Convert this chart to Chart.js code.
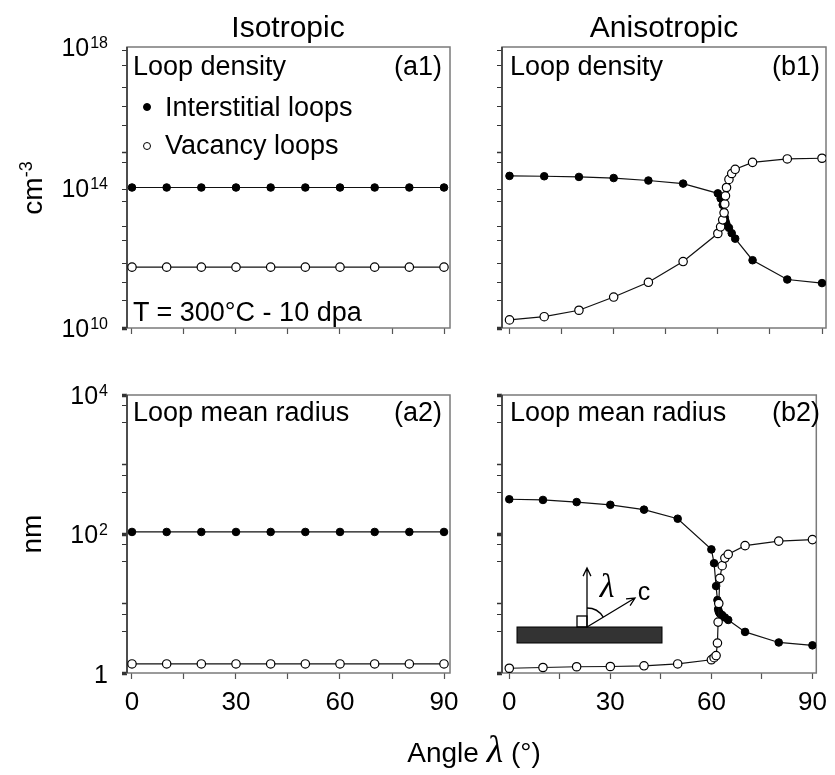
<!DOCTYPE html>
<html lang="en">
<head>
<meta charset="UTF-8">
<title>Loop density and radius vs angle</title>
<script src="https://cdn.jsdelivr.net/npm/chart.js"></script>
<style>
  body { margin: 0; background: #fff; }
  #fig { position: relative; width: 835px; height: 775px; font-family: "Liberation Sans", Arial, sans-serif; color: #000; overflow: hidden; }
  #fig canvas { position: absolute; }
  .t { position: absolute; white-space: nowrap; line-height: 1; }
  .f27 { font-size: 27px; }
  .f28 { font-size: 28px; }
  .f30 { font-size: 30px; }
  .dot { position: absolute; width: 8px; height: 8px; border-radius: 50%; box-sizing: border-box; border: 1.2px solid #000; }
</style>
</head>
<body>
<div id="fig">
  <canvas id="a1" width="470" height="350" style="left:0;top:0"></canvas>
  <canvas id="b1" width="365" height="350" style="left:470px;top:0"></canvas>
  <canvas id="a2" width="470" height="380" style="left:0;top:350px"></canvas>
  <canvas id="b2" width="365" height="380" style="left:470px;top:350px"></canvas>

  <div class="t f30" style="left:188px;top:12px;width:200px;text-align:center">Isotropic</div>
  <div class="t f30" style="left:564px;top:12px;width:200px;text-align:center">Anisotropic</div>

  <div class="t f27" style="left:133px;top:53px">Loop density</div>
  <div class="t f27" style="right:393px;top:53px">(a1)</div>
  <div class="dot" style="left:143px;top:103px;background:#000"></div>
  <div class="t f27" style="left:165px;top:94px">Interstitial loops</div>
  <div class="dot" style="left:143px;top:142px;background:#fff"></div>
  <div class="t f27" style="left:165px;top:132px">Vacancy loops</div>
  <div class="t f27" style="left:133px;top:299px">T = 300°C - 10 dpa</div>

  <div class="t f27" style="left:510px;top:53px">Loop density</div>
  <div class="t f27" style="right:15px;top:53px">(b1)</div>

  <div class="t f27" style="left:133px;top:399px">Loop mean radius</div>
  <div class="t f27" style="right:393px;top:399px">(a2)</div>
  <div class="t f27" style="left:510px;top:399px">Loop mean radius</div>
  <div class="t f27" style="right:15px;top:399px">(b2)</div>

  <div class="t f28" style="left:-18px;top:173px;width:100px;text-align:center;transform:rotate(-90deg)">cm<sup style="font-size:18px;vertical-align:10px">-3</sup></div>
  <div class="t f28" style="left:-18px;top:520px;width:100px;text-align:center;transform:rotate(-90deg)">nm</div>

  <div class="t f28" style="left:374px;top:732px;width:200px;text-align:center;line-height:34px">Angle <span style="font-family:'Liberation Serif',serif;font-style:italic;font-size:38px">λ</span> (°)</div>
</div>
<script>
// angles (deg)
const angIso = [0, 10, 20, 30, 40, 50, 60, 70, 80, 90];
const angAniso = [0, 10, 20, 30, 40, 50, 60, 60.8, 61.4, 61.8, 62, 62.2, 62.5, 63.2, 64, 65, 70, 80, 90];

// loop density (cm^-3)
const densIsoInt = [1e14, 1e14, 1e14, 1e14, 1e14, 1e14, 1e14, 1e14, 1e14, 1e14];
const densIsoVac = [5.4e11, 5.4e11, 5.4e11, 5.4e11, 5.4e11, 5.4e11, 5.4e11, 5.4e11, 5.4e11, 5.4e11];
const densAnisoInt = [2.14e14, 2.09e14, 2.0e14, 1.86e14, 1.58e14, 1.29e14, 6.8e13, 4.9e13, 3.2e13, 2.0e13,
  1.4e13, 1.1e13, 8.9e12, 7.1e12, 5.0e12, 3.5e12, 8.5e11, 2.4e11, 1.9e11];
const densAnisoVac = [1.7e10, 2.1e10, 3.2e10, 7.6e10, 2.0e11, 7.8e11, 4.9e12, 7.6e12, 1.2e13, 1.9e13,
  3.4e13, 5.8e13, 1.0e14, 1.7e14, 2.5e14, 3.3e14, 5.2e14, 6.5e14, 6.8e14];

// loop mean radius (nm)
const radIsoInt = [107, 107, 107, 107, 107, 107, 107, 107, 107, 107];
const radIsoVac = [1.35, 1.35, 1.35, 1.35, 1.35, 1.35, 1.35, 1.35, 1.35, 1.35];
const radAnisoInt = [316, 309, 288, 263, 224, 166, 60, 38, 17.8, 11.2, 8.3, 7.6, 7.2, 6.8, 6.3, 5.8, 3.9, 2.75, 2.5];
const radAnisoVac = [1.17, 1.2, 1.23, 1.24, 1.27, 1.35, 1.55, 1.66, 1.78, 2.7, 5.4, 10, 23, 35, 45, 51, 68, 79, 83];

// axis ticks
const angleTicks = [0, 15, 30, 45, 60, 75, 90];
const angleLabels = [0, 30, 60, 90];
const densityLabels = [1e10, 1e14, 1e18];
const radiusLabels = [1, 1e2, 1e4];

const FONT = "'Liberation Sans', Arial, sans-serif";

const isDecade = v => Math.abs(Math.log10(v) - Math.round(Math.log10(v))) < 1e-9;

// box round the plot area
const framePlugin = {
  id: 'frame',
  beforeDatasetsDraw(chart) {
    const { ctx, chartArea: a } = chart;
    ctx.save();
    ctx.strokeStyle = '#7a7a7a';
    ctx.lineWidth = 1.5;
    ctx.strokeRect(a.left, a.top, a.right - a.left, a.bottom - a.top);
    ctx.strokeStyle = '#333';
    ctx.beginPath();
    ctx.moveTo(a.left, a.top);
    ctx.lineTo(a.left, a.bottom);
    ctx.stroke();
    ctx.restore();
  }
};

// "10^n" labels on the log axis
const powerLabels = {
  id: 'powerLabels',
  afterDraw(chart, args, opts) {
    if (!opts.values) return;
    const { ctx } = chart;
    const y = chart.scales.y;
    const right = y.right - 19;
    ctx.save();
    ctx.fillStyle = '#000';
    ctx.textBaseline = 'alphabetic';
    opts.values.forEach(v => {
      const py = y.getPixelForValue(v);
      const e = Math.round(Math.log10(v));
      if (e === 0) {
        ctx.font = '25px ' + FONT;
        ctx.textAlign = 'right';
        ctx.fillText('1', right, py + 10);
        return;
      }
      ctx.font = '16px ' + FONT;
      const ew = ctx.measureText(String(e)).width;
      ctx.textAlign = 'left';
      ctx.fillText(String(e), right - ew, py + 1);
      ctx.font = '25px ' + FONT;
      ctx.textAlign = 'right';
      ctx.fillText('10', right - ew - 1, py + 9);
    });
    ctx.restore();
  }
};

// small sketch of the c axis and angle lambda
const insetPlugin = {
  id: 'inset',
  afterDraw(chart, args, opts) {
    if (!opts.show) return;
    const { ctx } = chart;
    const ox = 117, oy = 277;
    ctx.save();
    ctx.fillStyle = '#333';
    ctx.strokeStyle = '#000';
    ctx.lineWidth = 1;
    ctx.fillRect(47, oy, 145, 16);
    ctx.strokeRect(47, oy, 145, 16);
    ctx.lineWidth = 1.3;
    ctx.strokeRect(ox - 10, oy - 11, 10, 11);
    const arrow = (x2, y2) => {
      const ang = Math.atan2(y2 - oy, x2 - ox);
      ctx.beginPath();
      ctx.moveTo(ox, oy);
      ctx.lineTo(x2, y2);
      ctx.moveTo(x2 - 9 * Math.cos(ang - 0.45), y2 - 9 * Math.sin(ang - 0.45));
      ctx.lineTo(x2, y2);
      ctx.lineTo(x2 - 9 * Math.cos(ang + 0.45), y2 - 9 * Math.sin(ang + 0.45));
      ctx.stroke();
    };
    arrow(ox, 218);
    arrow(165, 248);
    ctx.beginPath();
    ctx.arc(ox, oy, 19, -Math.PI / 2, Math.atan2(248 - oy, 165 - ox));
    ctx.stroke();
    ctx.fillStyle = '#000';
    ctx.textAlign = 'center';
    ctx.textBaseline = 'middle';
    ctx.font = "italic 34px 'Liberation Serif', serif";
    ctx.fillText('λ', 137, 238);
    ctx.font = '25px ' + FONT;
    ctx.fillText('c', 174, 243);
    ctx.restore();
  }
};

function makePanel(id, xs, intVals, vacVals, p) {
  const pts = vals => xs.map((x, i) => ({ x: x, y: vals[i] }));
  new Chart(document.getElementById(id), {
    type: 'line',
    data: {
      datasets: [
        {
          label: 'Vacancy loops',
          data: pts(vacVals),
          borderColor: '#111',
          borderWidth: 1.2,
          pointRadius: 4.2,
          pointBorderWidth: 1.2,
          pointBackgroundColor: '#fff',
          pointBorderColor: '#000',
          tension: 0
        },
        {
          label: 'Interstitial loops',
          data: pts(intVals),
          borderColor: '#111',
          borderWidth: 1.2,
          pointRadius: 3.8,
          pointBorderWidth: 1,
          pointBackgroundColor: '#000',
          pointBorderColor: '#000',
          tension: 0
        }
      ]
    },
    options: {
      responsive: false,
      animation: false,
      devicePixelRatio: 1,
      layout: { padding: { left: 0, top: p.padTop, right: p.padRight, bottom: 0 } },
      plugins: {
        legend: { display: false },
        tooltip: { enabled: false },
        powerLabels: { values: p.labels },
        inset: { show: !!p.inset }
      },
      scales: {
        x: {
          type: 'linear',
          min: p.xMin,
          max: p.xMax,
          afterBuildTicks: s => { s.ticks = angleTicks.map(v => ({ value: v })); },
          afterFit: s => { s.height = p.xHeight; },
          border: { display: false },
          grid: { drawOnChartArea: false, tickLength: 6, tickWidth: 1.2, tickColor: '#555' },
          ticks: {
            autoSkip: false,
            maxRotation: 0,
            padding: 8,
            color: '#000',
            font: { family: FONT, size: 26 },
            callback: v => (p.showX && angleLabels.includes(v)) ? String(v) : ''
          }
        },
        y: {
          type: 'logarithmic',
          min: p.yMin,
          max: p.yMax,
          afterBuildTicks: s => {
            const lo = Math.round(Math.log10(p.yMin)), hi = Math.round(Math.log10(p.yMax));
            const t = [];
            for (let e = lo; e < hi; e++) {
              for (let m = 1; m < 10; m++) t.push({ value: m * Math.pow(10, e) });
            }
            t.push({ value: Math.pow(10, hi) });
            s.ticks = t;
          },
          afterFit: s => { s.width = p.yWidth; },
          border: { display: false },
          grid: {
            drawOnChartArea: false,
            tickLength: 5,
            tickColor: '#333',
            tickWidth: c => {
              const v = c.tick.value;
              if (!isDecade(v)) return 1;
              return p.labeled.some(l => Math.abs(Math.log10(l) - Math.log10(v)) < 1e-6) ? 3.5 : 1.5;
            }
          },
          ticks: { callback: () => '' }
        }
      }
    },
    plugins: [framePlugin, powerLabels, insetPlugin]
  });
}

makePanel('a1', angIso, densIsoInt, densIsoVac, {
  yMin: 1e10, yMax: 1e18, labels: densityLabels, labeled: densityLabels,
  xMin: -1.44, xMax: 91.73, yWidth: 127, padTop: 47, padRight: 20, xHeight: 22, showX: false
});
makePanel('b1', angAniso, densAnisoInt, densAnisoVac, {
  yMin: 1e10, yMax: 1e18, labels: null, labeled: densityLabels,
  xMin: -2.16, xMax: 91.15, yWidth: 32, padTop: 47, padRight: 9, xHeight: 22, showX: false
});
makePanel('a2', angIso, radIsoInt, radIsoVac, {
  yMin: 1, yMax: 1e4, labels: radiusLabels, labeled: radiusLabels,
  xMin: -1.44, xMax: 91.73, yWidth: 127, padTop: 45, padRight: 20, xHeight: 57, showX: true
});
makePanel('b2', angAniso, radAnisoInt, radAnisoVac, {
  yMin: 1, yMax: 1e4, labels: null, labeled: radiusLabels,
  xMin: -2.16, xMax: 91.15, yWidth: 32, padTop: 45, padRight: 9, xHeight: 57, showX: true, inset: true
});
</script>
</body>
</html>
